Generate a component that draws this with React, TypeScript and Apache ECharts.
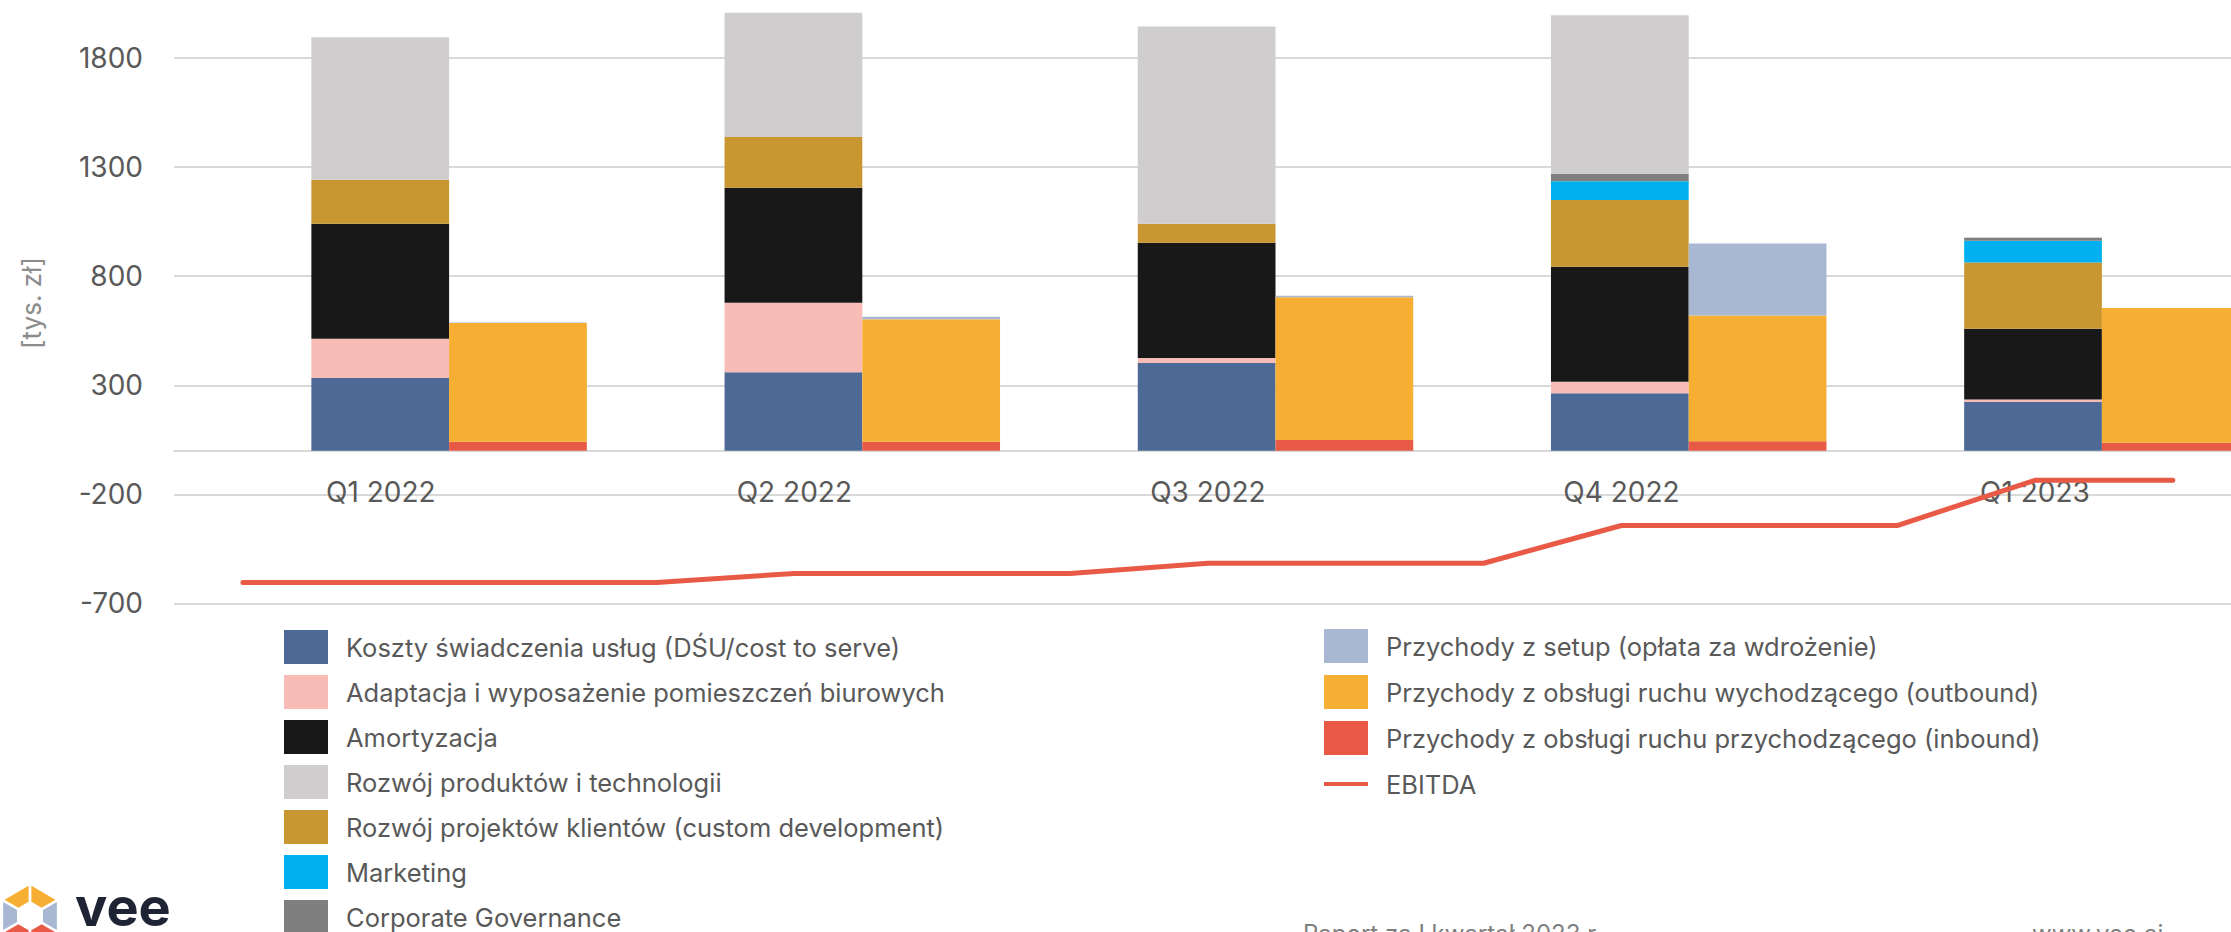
import React, { useEffect, useRef } from "react";
import * as echarts from "echarts";

// ---- data ----
const quarters = ["Q1 2022", "Q2 2022", "Q3 2022", "Q4 2022", "Q1 2023"];
const monthCategories = quarters.flatMap((q) => [q + " m1", q + " m2", q + " m3"]);

const costToServe = [333, 360, 402, 263, 223];
const officeFitout = [180, 318, 23, 53, 12];
const amortization = [527, 527, 528, 527, 324];
const customDev = [202, 233, 87, 306, 304];
const marketing = [0, 0, 0, 86, 99];
const corpGov = [0, 0, 0, 35, 14];
const productDev = [653, 570, 905, 726, 3];

const inbound = [41, 41, 49, 43, 36];
const outbound = [544, 562, 654, 577, 618];
const setup = [3, 11, 7, 330, 0];

const ebitda = [-604, -604, -604, -604, -563, -563, -563, -516, -516, -516, -343, -343, -343, -136, -136];

const yMin = -700;
const yMax = 2300;
const yInterval = 500;

const names = {
  cost: "Koszty świadczenia usług (DŚU/cost to serve)",
  office: "Adaptacja i wyposażenie pomieszczeń biurowych",
  amort: "Amortyzacja",
  product: "Rozwój produktów i technologii",
  custom: "Rozwój projektów klientów (custom development)",
  marketing: "Marketing",
  corp: "Corporate Governance",
  setup: "Przychody z setup (opłata za wdrożenie)",
  outbound: "Przychody z obsługi ruchu wychodzącego (outbound)",
  inbound: "Przychody z obsługi ruchu przychodzącego (inbound)",
  ebitda: "EBITDA",
};

const colors = {
  cost: "#4D6A96",
  office: "#F7BCB5",
  amort: "#181818",
  product: "#CFCDCE",
  custom: "#C99732",
  marketing: "#00B0F0",
  corp: "#7F7F7F",
  setup: "#A8B8D3",
  outbound: "#F6AF33",
  inbound: "#E85A46",
  ebitda: "#E85A46",
};

function hexPieces() {
  const cx = 30;
  const cy = 916;
  const R = 31;
  const r = 15;
  const g = 1.6;
  const pieceColors = ["#F6AF33", "#A8B8D3", "#E85A46", "#E85A46", "#A8B8D3", "#F6AF33"];
  const pt = (rad: number, k: number) => {
    const a = ((-90 + 60 * k) * Math.PI) / 180;
    return [cx + rad * Math.cos(a), cy + rad * Math.sin(a)];
  };
  const out: any[] = [];
  for (let k = 0; k < 6; k++) {
    const P0 = pt(R, k);
    const P1 = pt(R, k + 1);
    const Q0 = pt(r, k);
    const Q1 = pt(r, k + 1);
    const dx = P1[0] - P0[0];
    const dy = P1[1] - P0[1];
    const L = Math.hypot(dx, dy);
    const ux = (dx / L) * g;
    const uy = (dy / L) * g;
    out.push({
      type: "polygon",
      shape: {
        points: [
          [P0[0] + ux, P0[1] + uy],
          [P1[0] - ux, P1[1] - uy],
          [Q1[0] - ux, Q1[1] - uy],
          [Q0[0] + ux, Q0[1] + uy],
        ],
      },
      style: { fill: pieceColors[k] },
    });
  }
  return out;
}

export default function App() {
  const ref = useRef<HTMLDivElement>(null);

  useEffect(() => {
    if (!ref.current) return;
    const chart = echarts.init(ref.current, undefined, { renderer: "svg" });

    const gridTop = -51;
    const gridHeight = 654.4;
    const gridBottom = 932 - (gridTop + gridHeight);
    const zeroY = gridTop + (gridHeight * yMax) / (yMax - yMin);
    const lineGridWidth = 15 * 137.85;

    const barCommon = {
      type: "bar",
      xAxisIndex: 0,
      yAxisIndex: 0,
      barGap: "0%",
      barCategoryGap: "33.33%",
    };

    const costSeries = [
      { key: "cost", data: costToServe },
      { key: "office", data: officeFitout },
      { key: "amort", data: amortization },
      { key: "custom", data: customDev },
      { key: "marketing", data: marketing },
      { key: "corp", data: corpGov },
      { key: "product", data: productDev },
    ].map((s) => ({
      ...barCommon,
      name: (names as any)[s.key],
      stack: "cost",
      data: s.data,
      itemStyle: { color: (colors as any)[s.key] },
    }));

    const revSeries = [
      { key: "inbound", data: inbound },
      { key: "outbound", data: outbound },
      { key: "setup", data: setup },
    ].map((s) => ({
      ...barCommon,
      name: (names as any)[s.key],
      stack: "rev",
      data: s.data,
      itemStyle: { color: (colors as any)[s.key] },
    }));

    const legendText = {
      fontSize: 25.5,
      color: "#595959",
      fontFamily: "Inter",
      padding: [0, 0, 0, 13],
    };
    const legendBase = {
      orient: "vertical",
      padding: 0,
      itemWidth: 44,
      itemHeight: 34,
      height: 500,
      selectedMode: false,
      textStyle: legendText,
    };

    const option: any = {
      animation: false,
      textStyle: { fontFamily: "Inter" },
      grid: [
        {
          left: 242.5,
          width: 2066,
          top: gridTop,
          bottom: gridBottom,
          outerBoundsMode: "none",
          containLabel: false,
        },
        {
          left: 174,
          width: lineGridWidth,
          top: gridTop,
          bottom: gridBottom,
          outerBoundsMode: "none",
          containLabel: false,
        },
        {
          left: 174,
          width: lineGridWidth,
          top: 0,
          bottom: 932 - zeroY,
          outerBoundsMode: "none",
          containLabel: false,
        },
      ],
      xAxis: [
        {
          type: "category",
          gridIndex: 0,
          data: quarters,
          axisLine: { show: false },
          axisTick: { show: false },
          axisLabel: { show: false },
          splitLine: { show: false },
        },
        {
          type: "category",
          gridIndex: 1,
          data: monthCategories,
          boundaryGap: true,
          axisLine: { show: true, onZero: true, lineStyle: { color: "#D9D9D9", width: 2 } },
          axisTick: { show: false },
          splitLine: { show: false },
          axisLabel: { show: false },
        },
        {
          type: "category",
          gridIndex: 2,
          position: "bottom",
          data: monthCategories,
          boundaryGap: true,
          axisLine: { show: false, onZero: false },
          axisTick: { show: false },
          splitLine: { show: false },
          axisLabel: {
            interval: 0,
            margin: 27,
            fontSize: 28,
            color: "#595959",
            fontFamily: "Inter",
            formatter: (_v: string, i: number) => (i % 3 === 1 ? quarters[(i - 1) / 3] : ""),
          },
        },
      ],
      yAxis: [
        {
          type: "value",
          gridIndex: 0,
          min: yMin,
          max: yMax,
          interval: yInterval,
          show: false,
          splitLine: { show: false },
        },
        {
          type: "value",
          gridIndex: 1,
          min: yMin,
          max: yMax,
          interval: yInterval,
          axisLine: { show: false },
          axisTick: { show: false },
          axisLabel: {
            margin: 31,
            fontSize: 28,
            color: "#595959",
            fontFamily: "Inter",
            formatter: (v: number) => String(v),
          },
          splitLine: { show: true, lineStyle: { color: "#D9D9D9", width: 2 } },
        },
        {
          type: "value",
          gridIndex: 2,
          min: 0,
          max: 1,
          show: false,
          splitLine: { show: false },
        },
      ],
      legend: [
        {
          ...legendBase,
          left: 284,
          top: 630,
          itemGap: 11,
          data: [names.cost, names.office, names.amort, names.product, names.custom, names.marketing, names.corp].map(
            (n) => ({ name: n, icon: "rect" })
          ),
        },
        {
          ...legendBase,
          left: 1324,
          top: 629,
          itemGap: 12,
          data: [names.setup, names.outbound, names.inbound].map((n) => ({ name: n, icon: "rect" })),
        },
        {
          ...legendBase,
          left: 1324,
          top: 771,
          itemHeight: 4,
          data: [{ name: names.ebitda, icon: "rect" }],
        },
      ],
      series: [
        ...costSeries,
        ...revSeries,
        {
          name: names.ebitda,
          type: "line",
          xAxisIndex: 1,
          yAxisIndex: 1,
          data: ebitda,
          symbol: "none",
          z: 5,
          lineStyle: { color: colors.ebitda, width: 5, cap: "round", join: "round" },
          itemStyle: { color: colors.ebitda },
        },
      ],
      graphic: [
        {
          type: "text",
          x: 31,
          y: 303,
          rotation: Math.PI / 2,
          style: {
            text: "[tys. zł]",
            align: "center",
            verticalAlign: "middle",
            fontSize: 26,
            fill: "#8C8C8C",
            fontFamily: "Inter",
          },
        },
        ...hexPieces(),
        {
          type: "text",
          x: 75,
          y: 933,
          style: {
            text: "vee",
            fontSize: 54,
            fontWeight: 700,
            fill: "#1E2433",
            fontFamily: "Inter",
            verticalAlign: "bottom",
          },
        },
        {
          type: "text",
          x: 1303,
          y: 921,
          style: {
            text: "Raport za I kwartał 2023 r.",
            fontSize: 24,
            fill: "#7F7F7F",
            fontFamily: "Inter",
            verticalAlign: "top",
          },
        },
        {
          type: "text",
          x: 2032,
          y: 921,
          style: {
            text: "www.vee.ai",
            fontSize: 24,
            fill: "#7F7F7F",
            fontFamily: "Inter",
            verticalAlign: "top",
          },
        },
      ],
    };

    chart.setOption(option);
    return () => chart.dispose();
  }, []);

  return (
    <div
      ref={ref}
      style={{ position: "fixed", left: 0, top: 0, width: "2231px", height: "932px", background: "#fff" }}
    />
  );
}
